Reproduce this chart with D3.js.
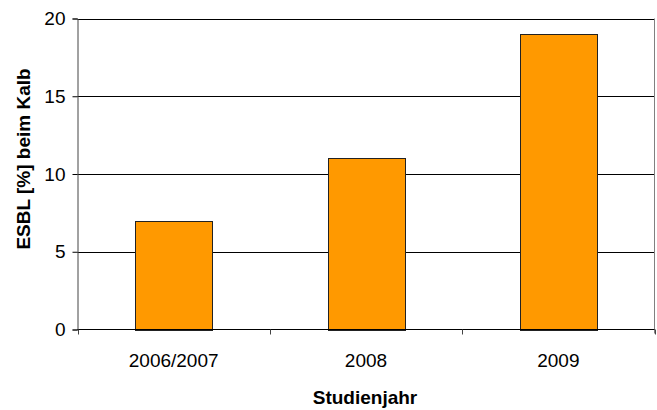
<!DOCTYPE html>
<html><head><meta charset="utf-8">
<script src="https://cdn.jsdelivr.net/npm/d3@7"></script>
<style>body{margin:0;background:#fff}svg{display:block}text{font-family:"Liberation Sans",Arial,sans-serif}</style>
</head><body>
<svg id="c" width="657" height="410"></svg>
<script>
const categories = ["2006/2007", "2008", "2009"];
const values = [7, 11, 19];
const yTicks = [0, 5, 10, 15, 20];

const svg = d3.select("#c");
const m = {left: 77.5, right: 654.5, top: 18.5, bottom: 329.5};
const x = d3.scaleBand().domain(categories).range([m.left, m.right]).paddingInner(0.6).paddingOuter(0.3);
const xb = d3.scaleBand().domain(categories).range([m.left, m.right]);
const y = d3.scaleLinear().domain([0, 20]).range([m.bottom, m.top]);

// gridlines
svg.append("g").selectAll("line").data(yTicks.filter(d => d > 0)).join("line")
  .attr("x1", m.left).attr("x2", m.right)
  .attr("y1", d => Math.round(y(d)) + 0.5).attr("y2", d => Math.round(y(d)) + 0.5)
  .attr("stroke", "#000").attr("stroke-width", 1);

// right border
svg.append("line").attr("x1", m.right).attr("x2", m.right).attr("y1", m.top).attr("y2", m.bottom + 4)
  .attr("stroke", "#808080");

// bars
svg.append("g").selectAll("rect").data(values).join("rect")
  .attr("x", (d, i) => Math.round(x(categories[i])) + 0.5)
  .attr("width", Math.round(x.bandwidth()))
  .attr("y", d => Math.round(y(d)) + 0.5)
  .attr("height", d => Math.round(m.bottom) - Math.round(y(d)))
  .attr("fill", "#FF9900").attr("stroke", "#222").attr("stroke-width", 1);

// y axis
const yAxis = d3.axisLeft(y).tickValues(yTicks).tickSize(5).tickPadding(7);
const gy = svg.append("g").attr("transform", `translate(${m.left},0)`).call(yAxis);
gy.select(".domain").attr("stroke", "#444");
gy.selectAll(".tick line").attr("stroke", "#000");
gy.selectAll("text").attr("font-size", 19).attr("fill", "#000").attr("font-family", '"Liberation Sans",Arial,sans-serif');

// x axis
const gx = svg.append("g").attr("transform", `translate(0,${m.bottom})`);
gx.append("line").attr("x1", m.left).attr("x2", m.right).attr("stroke", "#000");
const bounds = [m.left].concat(categories.map(c => xb(c) + xb.bandwidth()));
gx.selectAll(".tk").data(bounds).join("line").attr("class", "tk")
  .attr("x1", d => Math.round(d) + 0.5).attr("x2", d => Math.round(d) + 0.5)
  .attr("y1", 0).attr("y2", 5).attr("stroke", "#444");
gx.selectAll(".lb").data(categories).join("text").attr("class", "lb")
  .attr("x", d => xb(d) + xb.bandwidth() / 2).attr("y", 37)
  .attr("text-anchor", "middle").attr("font-size", 19).attr("fill", "#000").text(d => d);

// titles
svg.append("text").attr("x", (m.left + m.right) / 2 - 1).attr("y", 404)
  .attr("text-anchor", "middle").attr("font-size", 19).attr("font-weight", "bold").text("Studienjahr");
svg.append("text").attr("transform", `translate(30,159) rotate(-90)`)
  .attr("text-anchor", "middle").attr("font-size", 19).attr("font-weight", "bold").text("ESBL [%] beim Kalb");
</script>
</body></html>
